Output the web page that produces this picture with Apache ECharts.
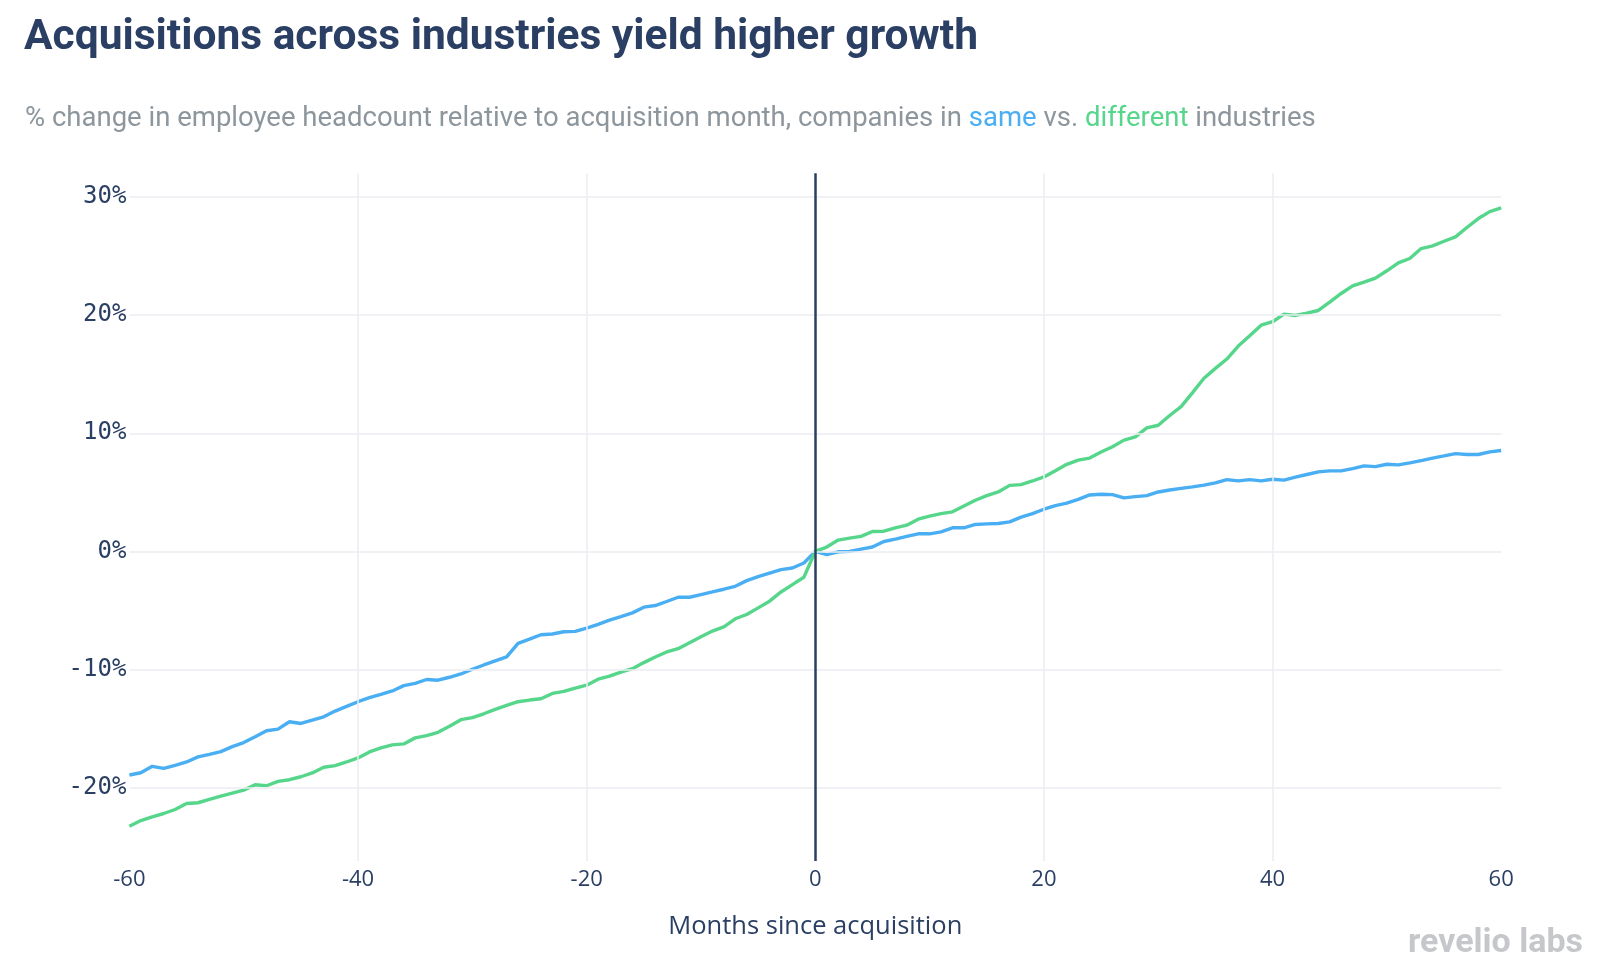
<!DOCTYPE html>
<html>
<head>
<meta charset="utf-8">
<script src="https://cdn.jsdelivr.net/npm/echarts@6/dist/echarts.min.js"></script>
<style>
html,body{margin:0;padding:0;background:#fff;}
#chart{width:1598px;height:974px;}
</style>
</head>
<body>
<div id="chart"></div>
<script>
const months = [-60,-59,-58,-57,-56,-55,-54,-53,-52,-51,-50,-49,-48,-47,-46,-45,-44,-43,-42,-41,
-40,-39,-38,-37,-36,-35,-34,-33,-32,-31,-30,-29,-28,-27,-26,-25,-24,-23,-22,-21,
-20,-19,-18,-17,-16,-15,-14,-13,-12,-11,-10,-9,-8,-7,-6,-5,-4,-3,-2,-1,
0,1,2,3,4,5,6,7,8,9,10,11,12,13,14,15,16,17,18,19,
20,21,22,23,24,25,26,27,28,29,30,31,32,33,34,35,36,37,38,39,
40,41,42,43,44,45,46,47,48,49,50,51,52,53,54,55,56,57,58,59,60];

const sameIndustry = [-18.92,-18.73,-18.19,-18.36,-18.10,-17.82,-17.39,-17.17,-16.94,-16.52,
-16.18,-15.69,-15.18,-15.04,-14.42,-14.56,-14.28,-14.00,-13.51,-13.12,
-12.72,-12.38,-12.10,-11.81,-11.36,-11.17,-10.84,-10.90,-10.65,-10.37,
-9.97,-9.61,-9.27,-8.93,-7.78,-7.42,-7.05,-6.99,-6.80,-6.77,
-6.49,-6.18,-5.81,-5.51,-5.20,-4.72,-4.58,-4.24,-3.88,-3.88,
-3.65,-3.43,-3.20,-2.95,-2.47,-2.13,-1.83,-1.54,-1.40,-0.98,
0,-0.28,-0.03,0.00,0.20,0.37,0.84,1.04,1.27,1.49,
1.49,1.66,2.00,2.00,2.28,2.33,2.36,2.50,2.90,3.20,
3.57,3.88,4.08,4.41,4.78,4.84,4.81,4.53,4.64,4.72,
5.03,5.20,5.34,5.46,5.61,5.80,6.08,5.97,6.08,5.97,
6.11,6.03,6.28,6.51,6.73,6.82,6.82,7.01,7.24,7.18,
7.38,7.32,7.49,7.69,7.89,8.08,8.28,8.20,8.20,8.42,8.54];

const differentIndustry = [-23.26,-22.78,-22.46,-22.18,-21.84,-21.33,-21.27,-20.99,-20.71,-20.45,
-20.20,-19.75,-19.83,-19.46,-19.32,-19.07,-18.75,-18.27,-18.13,-17.82,
-17.48,-16.97,-16.63,-16.37,-16.29,-15.78,-15.59,-15.31,-14.80,-14.24,
-14.07,-13.74,-13.37,-13.03,-12.72,-12.58,-12.47,-12.02,-11.85,-11.57,
-11.32,-10.81,-10.56,-10.22,-9.92,-9.41,-8.93,-8.51,-8.23,-7.72,
-7.22,-6.74,-6.38,-5.70,-5.34,-4.78,-4.21,-3.43,-2.81,-2.19,
0,0.37,0.96,1.12,1.27,1.69,1.71,2.00,2.22,2.73,
2.98,3.20,3.35,3.85,4.33,4.72,5.03,5.59,5.65,5.96,
6.30,6.83,7.37,7.73,7.90,8.41,8.86,9.42,9.70,10.46,
10.68,11.50,12.25,13.44,14.65,15.49,16.28,17.38,18.25,19.15,
19.44,20.08,19.97,20.17,20.39,21.10,21.83,22.48,22.79,23.13,
23.75,24.42,24.79,25.63,25.86,26.25,26.62,27.41,28.17,28.76,29.07];

const yTicks = [-20, -10, 0, 10, 20, 30];
const xGridTicks = [-40, -20, 20, 40];
const xZero = 0;

const titleText = 'Acquisitions across industries yield higher growth';
const subtitleText = '% change in employee headcount relative to acquisition month, companies in {b|same} vs. {g|different} industries';
const xAxisTitle = 'Months since acquisition';
const logoText = 'revelio labs';

const BLUE = '#4AAEF3';
const GREEN = '#55D68A';
const NAVY = '#2A3F63';
const GRID = '#EBEDF2';

const chart = echarts.init(document.getElementById('chart'), null, {renderer: 'canvas'});

const pairs = (arr) => months.map((m, i) => [m, arr[i]]);

const option = {
  animation: false,
  backgroundColor: '#ffffff',
  title: [
    {
      text: titleText,
      left: 24, top: 17, padding: 0,
      textStyle: {fontFamily: 'Roboto', fontWeight: 'bold', fontSize: 42.5, color: NAVY}
    },
    {
      text: subtitleText,
      left: 25, top: 105, padding: 0,
      textStyle: {
        fontFamily: 'Roboto', fontWeight: 'normal', fontSize: 27.5, color: '#8C969C',
        rich: {
          b: {fontFamily: 'Roboto', fontSize: 27.5, color: BLUE},
          g: {fontFamily: 'Roboto', fontSize: 27.5, color: GREEN}
        }
      }
    }
  ],
  grid: {left: 129.4, right: 96.8, top: 173.3, bottom: 113, containLabel: false},
  xAxis: {
    type: 'value', min: -60, max: 60, interval: 20,
    name: xAxisTitle, nameLocation: 'middle', nameGap: 53,
    nameTextStyle: {fontFamily: 'Open Sans', fontSize: 25.5, color: NAVY},
    axisLine: {show: false}, axisTick: {show: false},
    splitLine: {show: false},
    axisLabel: {fontFamily: 'Open Sans', fontSize: 22, color: NAVY, margin: 8}
  },
  yAxis: {
    type: 'value', min: -26.2, max: 32,
    axisLine: {show: false}, axisTick: {show: false},
    splitLine: {show: false},
    axisLabel: {
      customValues: yTicks,
      fontFamily: 'DejaVu Sans Mono', fontSize: 24, color: NAVY, margin: 3,
      padding: [4, 0, 0, 0],
      formatter: (v) => v + '%'
    }
  },
  series: [
    {
      type: 'line', data: [], z: 1, silent: true,
      markLine: {
        silent: true, symbol: 'none', animation: false,
        label: {show: false},
        data: yTicks.map(v => ({yAxis: v, lineStyle: {color: GRID, width: 1.5, type: 'solid'}}))
          .concat(xGridTicks.map(v => ({xAxis: v, lineStyle: {color: GRID, width: 1.5, type: 'solid'}})))
      }
    },
    {
      name: 'same', type: 'line', data: pairs(sameIndustry), z: 3,
      showSymbol: false, symbol: 'none', smooth: false,
      lineStyle: {color: BLUE, width: 3.4}, itemStyle: {color: BLUE}
    },
    {
      name: 'different', type: 'line', data: pairs(differentIndustry), z: 3,
      showSymbol: false, symbol: 'none', smooth: false,
      lineStyle: {color: GREEN, width: 3.4}, itemStyle: {color: GREEN}
    },
    {
      type: 'line', data: [], z: 2, silent: true,
      markLine: {
        silent: true, symbol: 'none', animation: false,
        label: {show: false},
        data: [{xAxis: xZero, lineStyle: {color: NAVY, width: 2.5, type: 'solid'}}]
      }
    }
  ],
  graphic: [
    {
      type: 'text', right: 15, top: 926,
      style: {text: logoText, font: 'bold 34px Roboto', fill: '#C5C7CB'}
    }
  ]
};

chart.setOption(option);
</script>
</body>
</html>
